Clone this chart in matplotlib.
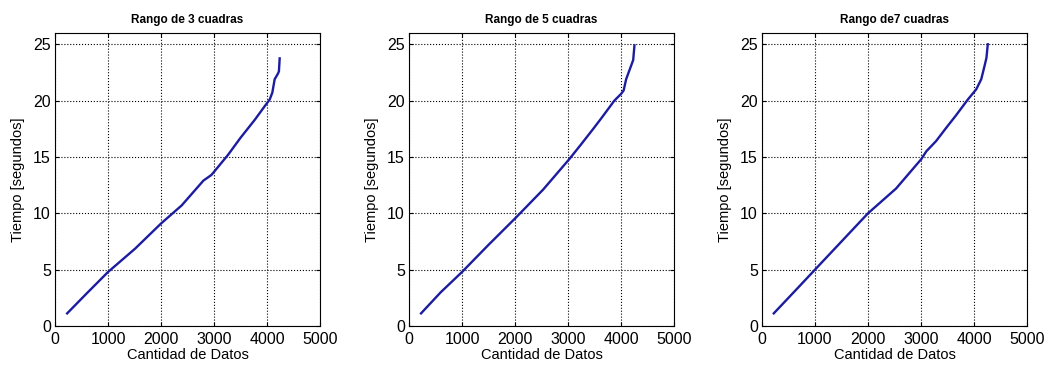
import matplotlib
matplotlib.use('Agg')
import matplotlib.pyplot as plt

plt.rcParams['font.family'] = ['Liberation Sans', 'DejaVu Sans']

titles = ['Rango de 3 cuadras', 'Rango de 5 cuadras', 'Rango de7 cuadras']

# puntos (cantidad de datos, tiempo)
x3 = [229, 600, 1000, 1513, 2002, 2390, 2800, 2950, 3004, 3267, 3500, 3770, 3925, 4051,
      4100, 4145, 4207, 4225, 4239]
y3 = [1.12, 2.9, 4.79, 6.87, 9.1, 10.7, 12.9, 13.4, 13.7, 15.2, 16.7, 18.3, 19.3, 20.1,
      20.7, 21.9, 22.4, 22.6, 23.75]

x5 = [227, 600, 1000, 1500, 2013, 2530, 3023, 3244, 3477, 3623, 3875, 4002, 4050, 4097, 4191,
      4230, 4254]
y5 = [1.12, 3.0, 4.79, 7.2, 9.6, 12.1, 14.8, 16.1, 17.5, 18.4, 20.0, 20.6, 20.9, 21.9, 23.1,
      23.6, 24.9]

x7 = [222, 600, 1000, 1500, 2000, 2530, 3004, 3100, 3283, 3478, 3662, 3884, 4042, 4137, 4200,
      4235, 4260]
y7 = [1.12, 3.0, 5.0, 7.5, 10.0, 12.2, 14.8, 15.5, 16.4, 17.6, 18.7, 20.1, 21.0, 21.9, 23.1,
      23.8, 25.0]

series = [(x3, y3), (x5, y5), (x7, y7)]

fig = plt.figure(figsize=(10.45, 3.68), dpi=100)
lefts = [55, 409, 762]
for i, (xs, ys) in enumerate(series):
    ax = fig.add_axes([lefts[i] / 1045, 1 - 326 / 368, 265 / 1045, 293 / 368])
    ax.plot(xs, ys, color='#1c1ca0', lw=1.7)
    ax.set_xlim(0, 5000)
    ax.set_ylim(0, 26)
    ax.set_xticks([0, 1000, 2000, 3000, 4000, 5000])
    ax.set_yticks([0, 5, 10, 15, 20, 25])
    ax.grid(True, ls=':', color='black', lw=0.8)
    ax.tick_params(direction='in', top=True, right=True, labelsize=11.5, length=3)
    ax.tick_params(axis='y', pad=3)
    ax.tick_params(axis='x', pad=4)
    for s in ax.spines.values():
        s.set_linewidth(0.8)
    ax.set_title(titles[i], fontsize=8.5, fontweight='bold', pad=7)
    ax.set_xlabel('Cantidad de Datos', fontsize=10.5, labelpad=1)
    ax.set_ylabel('Tiempo [segundos]', fontsize=10.5, labelpad=6)

fig.savefig('out.png', dpi=100)
